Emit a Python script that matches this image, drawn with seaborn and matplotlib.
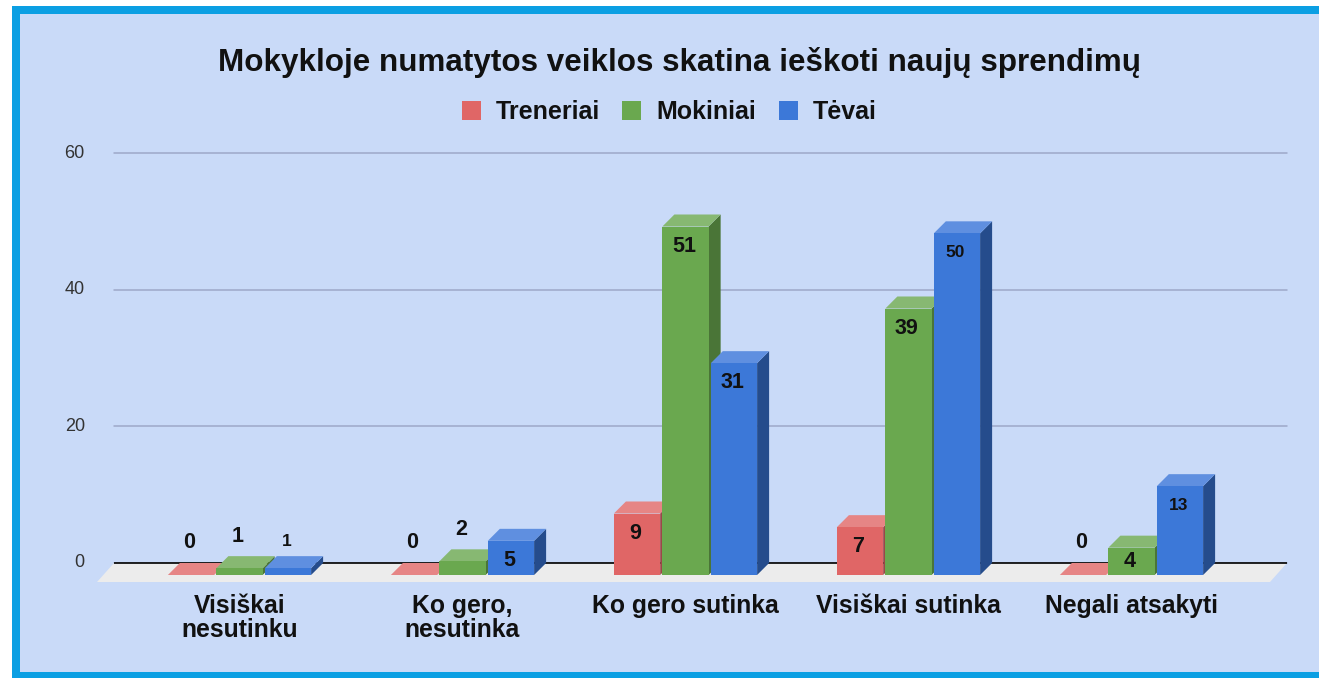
import numpy as np
import pandas as pd
import matplotlib
matplotlib.use("Agg")
import matplotlib.pyplot as plt
from matplotlib.patches import Polygon, Rectangle
import seaborn as sns

sns.set_style("white")
plt.rcParams['font.family'] = ['Liberation Sans', 'DejaVu Sans']
plt.rcParams['ytick.alignment'] = 'center'

title = "Mokykloje numatytos veiklos skatina ieškoti naujų sprendimų"
categories = ["Visiškai\nnesutinku", "Ko gero,\nnesutinka", "Ko gero sutinka",
              "Visiškai sutinka", "Negali atsakyti"]
series_names = ["Treneriai", "Mokiniai", "Tėvai"]
treneriai = [0, 0, 9, 7, 0]
mokiniai = [1, 2, 51, 39, 4]
tevai = [1, 5, 31, 50, 13]
y_ticks = [0, 20, 40, 60]

front = {"Treneriai": "#E06666", "Mokiniai": "#6AA84F", "Tėvai": "#3C78D8"}
top_col = {"Treneriai": "#E68585", "Mokiniai": "#87B872", "Tėvai": "#5F8FE0"}
side_col = {"Treneriai": "#9C4747", "Mokiniai": "#4A7537", "Tėvai": "#254C8C"}
small_labels = [("Tėvai", 0), ("Tėvai", 3), ("Tėvai", 4)]

W, H = 1319, 678
px_x = 1 / 223       # one pixel in category units
px_y = 1 / 6.83      # one pixel in value units
depth_x = 12 * px_x
depth_y = 12 * px_y

rows = []
for name, vals in zip(series_names, [treneriai, mokiniai, tevai]):
    for cat, v in zip(categories, vals):
        rows.append({"cat": cat, "series": name, "value": v})
df = pd.DataFrame(rows)

fig = plt.figure(figsize=(W / 100, H / 100), dpi=100, facecolor="white")
# frame
fig.add_artist(Rectangle((12 / W, 1 - 678 / H), 1, 672 / H, transform=fig.transFigure,
                         fc="#0B9FE3", ec="none", zorder=-3))
fig.add_artist(Rectangle((20 / W, 1 - 672 / H), 1, 658 / H, transform=fig.transFigure,
                         fc="#C9DAF8", ec="none", zorder=-2))

ax = fig.add_axes([114 / W, 1 - 575 / H, (1287 - 114) / W, (575 - 153) / H])
ax.patch.set_visible(False)

sns.barplot(data=df, x="cat", y="value", hue="series", order=categories,
            hue_order=series_names, palette=front, saturation=1,
            width=0.652, gap=0.045, linewidth=0, ax=ax)

xlim = (-125.5 * px_x, 1047.5 * px_x)
ax.set_xlim(xlim)
ax.set_ylim(0, 60 + depth_y)

# ticks and grid live on the back wall of the fake 3D box
ax.set_yticks([t + depth_y for t in y_ticks], labels=[str(t) for t in y_ticks])
ax.grid(axis="y", color="#9DA8C8", lw=1.1, clip_on=False)
ax.grid(axis="x", visible=False)
ax.set_axisbelow(True)
for gl in ax.get_ygridlines():
    gl.set_clip_on(False)
ax.tick_params(axis="y", length=0, pad=21, labelsize=13, labelcolor="#333333")
ax.tick_params(axis="x", length=0, pad=14, labelsize=17.8)
for lab in ax.get_xticklabels():
    lab.set_fontweight("bold")
    lab.set_color("#111111")
    lab.set_linespacing(1.0)
ax.set_xlabel("")
ax.set_ylabel("")
sns.despine(ax=ax, left=True, bottom=True)

# floor
floor_y = -7 * px_y
floor_dx = 17 * px_x
ax.add_patch(Polygon([(xlim[0] - floor_dx, floor_y), (xlim[1] - floor_dx, floor_y),
                      (xlim[1], depth_y), (xlim[0], depth_y)],
                     fc="#ECECEC", ec="none", zorder=0.8, clip_on=False))
ax.hlines(depth_y, xlim[0], xlim[1], color="#111111", lw=1.3, zorder=0.9)

# sides, tops and value labels derived from the bars seaborn drew
for name, cont in zip(series_names, ax.containers):
    for i, p in enumerate(cont.patches):
        x0, x1 = p.get_x(), p.get_x() + p.get_width()
        h = p.get_height()
        z = 3 + x0
        p.set_zorder(z)
        ax.add_patch(Polygon([(x1, 0), (x1 + depth_x, depth_y), (x1 + depth_x, h + depth_y), (x1, h)],
                             fc=side_col[name], ec="none", zorder=z - 0.001))
        ax.add_patch(Polygon([(x0, h), (x1, h), (x1 + depth_x, h + depth_y), (x0 + depth_x, h + depth_y)],
                             fc=top_col[name], ec="none", zorder=z - 0.001))
        size = 12.5 if (name, i) in small_labels else 15.5
        if h < 3:
            off = 27 if name == "Tėvai" else 32
        elif h < 5:
            off = -14   # short bar, label sits lower than usual
        else:
            off = -19.5
        ax.annotate(str(int(h)), ((x0 + x1) / 2, h), xytext=(-1.2, off * 0.72),
                    textcoords="offset points", ha="center", va="center",
                    fontsize=size, fontweight="bold", color="#111111", zorder=20,
                    annotation_clip=False)

handles = [c.patches[0] for c in ax.containers]
leg = ax.legend(handles, series_names, loc="center", ncol=3, frameon=False,
                bbox_to_anchor=(669 / W, 1 - 112 / H), bbox_transform=fig.transFigure,
                fontsize=18, handlelength=0.76, handleheight=0.76, handletextpad=0.6,
                columnspacing=0.9)
for t in leg.get_texts():
    t.set_fontweight("bold")
    t.set_color("#111111")

fig.text(680 / W, 1 - 62 / H, title, ha="center", va="center", fontsize=22.6,
         fontweight="bold", color="#111111")

fig.savefig("out.png", dpi=100, facecolor=fig.get_facecolor())
